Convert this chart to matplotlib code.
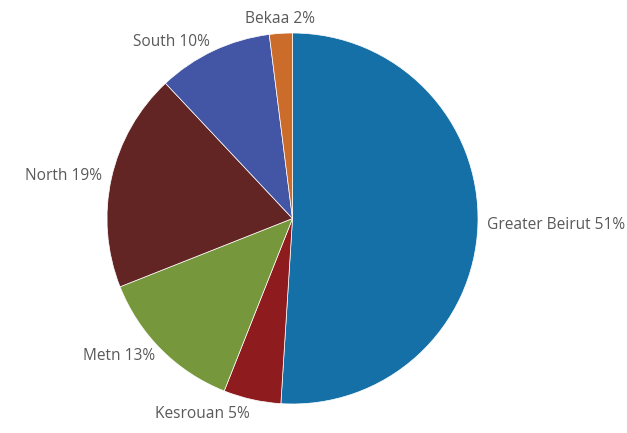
import numpy as np
import matplotlib
matplotlib.use("Agg")
import matplotlib.pyplot as plt

regions = ["Greater Beirut", "Kesrouan", "Metn", "North", "South", "Bekaa"]
shares = [51, 5, 13, 19, 10, 2]
colors = ["#1670a8", "#8e1c1f", "#76973b", "#632424", "#4355a5", "#cb6c2a"]

plt.rcParams["font.family"] = ["Open Sans", "DejaVu Sans"]

fig = plt.figure(figsize=(6.27, 4.33), dpi=100)
ax = fig.add_axes([0, 0, 1, 1])

wedges, _ = ax.pie(
    shares,
    colors=colors,
    startangle=90,
    counterclock=False,
    radius=1.0,
    wedgeprops=dict(edgecolor="white", linewidth=0.5),
)

# Labels placed just outside each wedge at its mid-angle
label_dist = 1.05
for w, name, val in zip(wedges, regions, shares):
    ang = np.deg2rad((w.theta1 + w.theta2) / 2)
    c, s = np.cos(ang), np.sin(ang)
    x, y = label_dist * c, label_dist * s
    if abs(c) < 0.15:
        ha = "center"
    else:
        ha = "left" if x > 0 else "right"
    # labels near the top/bottom get pushed a little further out
    dy = 3.6 * np.sign(s) if abs(s) > 0.95 else 0.0
    ax.annotate(f"{name} {val}%", (x, y), xytext=(0, dy), textcoords="offset points",
                ha=ha, va="center", fontsize=11.2, color="#595959")

ax.set_xlim(-292.5 / 185.5, (627 - 292.5) / 185.5)
ax.set_ylim(-214.5 / 185.5, (433 - 214.5) / 185.5)
ax.axis("off")

fig.savefig("out.png", dpi=100)
